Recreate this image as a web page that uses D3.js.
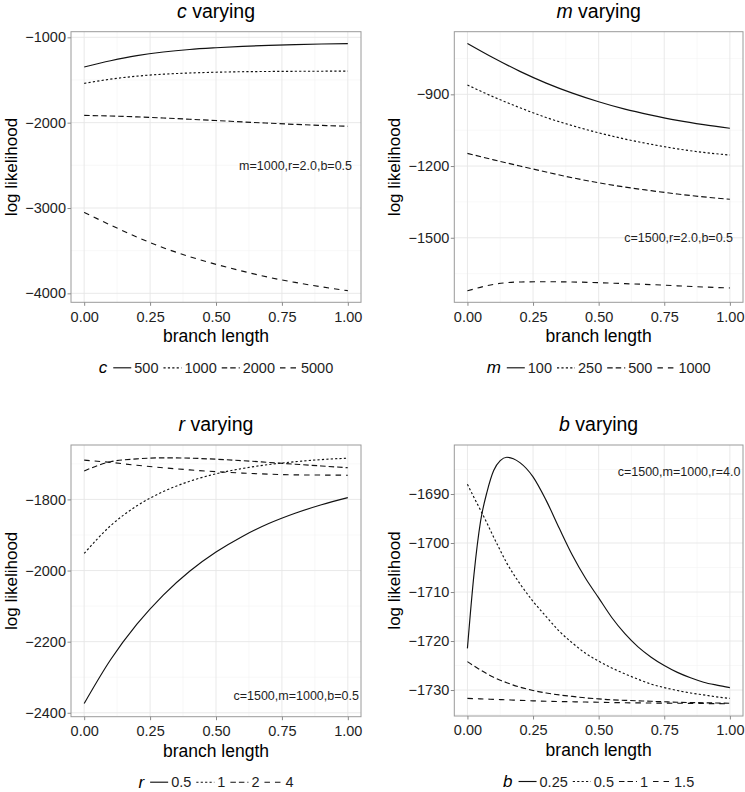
<!DOCTYPE html>
<html><head><meta charset="utf-8">
<script src="https://cdn.jsdelivr.net/npm/d3@7"></script>
<style>
body{margin:0;background:#fff}
svg{display:block}
text{font-family:"Liberation Sans",Arial,Helvetica,sans-serif}
</style>
</head><body>
<svg id="chart" width="745" height="792"></svg>
<script>
// ---------- DATA ----------
const branch = [0, 0.1, 0.2, 0.3, 0.4, 0.5, 0.6, 0.7, 0.8, 0.9, 1.0];
const branchB = [0, 0.025, 0.05, 0.075, 0.1, 0.125, 0.15, 0.175, 0.2, 0.25, 0.3, 0.35, 0.4, 0.45, 0.5, 0.55, 0.6, 0.65, 0.7, 0.75, 0.8, 0.85, 0.9, 0.95, 1.0];
const xTicks = [0, 0.25, 0.5, 0.75, 1];

// c varying (m=1000, r=2.0, b=0.5)
const cLevels = ["500", "1000", "2000", "5000"];
const c500  = [-1348, -1275, -1215, -1172, -1142, -1122, -1106, -1094, -1085, -1078, -1073];
const c1000 = [-1540, -1490, -1455, -1432, -1418, -1409, -1403, -1400, -1398, -1397, -1396];
const c2000 = [-1915, -1922, -1932, -1945, -1960, -1975, -1991, -2006, -2020, -2032, -2042];
const c5000 = [-3051, -3200, -3340, -3465, -3570, -3660, -3740, -3812, -3872, -3924, -3969];
const cTicks = [-4000, -3000, -2000, -1000];

// m varying (c=1500, r=2.0, b=0.5)
const mLevels = ["100", "250", "500", "1000"];
const m100  = [-687, -748, -804, -853, -895, -931, -962, -987, -1009, -1027, -1042];
const m250  = [-861, -911, -956, -997, -1031, -1061, -1087, -1109, -1128, -1143, -1154];
const m500  = [-1147, -1174, -1200, -1225, -1249, -1270, -1288, -1303, -1317, -1329, -1339];
const m1000 = [-1722, -1695, -1685, -1684, -1685, -1688, -1692, -1696, -1701, -1706, -1710];
const mTicks = [-1500, -1200, -900];

// r varying (c=1500, m=1000, b=0.5)
const rLevels = ["0.5", "1", "2", "4"];
const r05 = [-2374, -2251, -2151, -2069, -2002, -1948, -1904, -1868, -1839, -1815, -1795];
const r1  = [-1952, -1874, -1818, -1778, -1749, -1728, -1713, -1702, -1694, -1688, -1684];
const r2  = [-1720, -1694, -1686, -1683, -1684, -1687, -1691, -1696, -1701, -1706, -1711];
const r4  = [-1689.5, -1696, -1704, -1711, -1717, -1722, -1726, -1729, -1731, -1731.5, -1732];
const rTicks = [-2400, -2200, -2000, -1800];

// b varying (c=1500, m=1000, r=4.0)
const bLevels = ["0.25", "0.5", "1", "1.5"];
const b025 = [-1721.5, -1706.4, -1695.6, -1689.5, -1685.2, -1683.2, -1682.5, -1682.8, -1683.6, -1686.5, -1691.3, -1697.0, -1702.5, -1707.2, -1711.2, -1715.2, -1718.5, -1721.2, -1723.3, -1725.0, -1726.4, -1727.5, -1728.4, -1729.0, -1729.5];
const b05  = [-1688.0, -1690.7, -1693.3, -1696.0, -1698.8, -1701.5, -1704.1, -1706.3, -1708.3, -1711.9, -1715.0, -1718.0, -1720.4, -1722.5, -1724.1, -1725.5, -1726.7, -1727.8, -1728.8, -1729.5, -1730.1, -1730.6, -1731.0, -1731.4, -1731.7];
const b1   = [-1724.2, -1725.1, -1725.9, -1726.7, -1727.4, -1728.0, -1728.5, -1729.0, -1729.4, -1730.1, -1730.6, -1731.0, -1731.3, -1731.6, -1731.8, -1732.0, -1732.1, -1732.2, -1732.3, -1732.4, -1732.5, -1732.55, -1732.6, -1732.65, -1732.7];
const b15  = [-1731.7, -1731.75, -1731.8, -1731.85, -1731.9, -1731.95, -1732.0, -1732.05, -1732.1, -1732.2, -1732.3, -1732.35, -1732.4, -1732.45, -1732.5, -1732.55, -1732.6, -1732.62, -1732.65, -1732.68, -1732.7, -1732.72, -1732.75, -1732.78, -1732.8];
const bTicks = [-1730, -1720, -1710, -1700, -1690];

const notes = ["m=1000,r=2.0,b=0.5", "c=1500,r=2.0,b=0.5", "c=1500,m=1000,b=0.5", "c=1500,m=1000,r=4.0"];
const noteX = [1.016, 1.012, 1.042, 1.04];
const noteY = [-2508, -1500, -2353, -1685.4];

// ---------- LAYOUT / STYLE ----------
const dashes = [null, "2.2,2.2", "5.5,3", "5.5,5"];
const panels = [
  {v: "c", levels: cLevels, xs: branch, series: [c500, c1000, c2000, c5000], ticks: cTicks, yd: [-4105, -934], r: [71, 31.7, 361, 302.3]},
  {v: "m", levels: mLevels, xs: branch, series: [m100, m250, m500, m1000], ticks: mTicks, yd: [-1770, -638], r: [454.3, 31.7, 743, 302.3]},
  {v: "r", levels: rLevels, xs: branch, series: [r05, r1, r2, r4], ticks: rTicks, yd: [-2411, -1647], r: [71, 445, 361, 716.7]},
  {v: "b", levels: bLevels, xs: branchB, series: [b025, b05, b1, b15], ticks: bTicks, yd: [-1735.3, -1680], r: [454.3, 445, 743, 716]}
];

const svg = d3.select("#chart");
svg.append("rect").attr("width", 745).attr("height", 792).attr("fill", "#fff");

panels.forEach((p, i) => {
  const [x0, y0, x1, y1] = p.r;
  const x = d3.scaleLinear().domain([-0.05, 1.05]).range([x0, x1]);
  const y = d3.scaleLinear().domain(p.yd).range([y1, y0]);
  const g = svg.append("g");

  // minor grid
  const step = p.ticks[1] - p.ticks[0];
  const ext = [p.ticks[0] - step, ...p.ticks, p.ticks[p.ticks.length - 1] + step];
  const yMinor = [];
  for (let k = 0; k < ext.length - 1; k++) {
    const mv = (ext[k] + ext[k + 1]) / 2;
    if (mv >= p.yd[0] && mv <= p.yd[1]) yMinor.push(mv);
  }
  const xMinor = [0.125, 0.375, 0.625, 0.875];
  g.selectAll(".ymin").data(yMinor).join("line")
    .attr("x1", x0).attr("x2", x1).attr("y1", d => y(d)).attr("y2", d => y(d))
    .attr("stroke", "#f3f3f3").attr("stroke-width", 0.6);
  g.selectAll(".xmin").data(xMinor).join("line")
    .attr("y1", y0).attr("y2", y1).attr("x1", d => x(d)).attr("x2", d => x(d))
    .attr("stroke", "#f3f3f3").attr("stroke-width", 0.6);
  // major grid
  g.selectAll(".ymaj").data(p.ticks).join("line")
    .attr("x1", x0).attr("x2", x1).attr("y1", d => y(d)).attr("y2", d => y(d))
    .attr("stroke", "#e6e6e6").attr("stroke-width", 0.9);
  g.selectAll(".xmaj").data(xTicks).join("line")
    .attr("y1", y0).attr("y2", y1).attr("x1", d => x(d)).attr("x2", d => x(d))
    .attr("stroke", "#e6e6e6").attr("stroke-width", 0.9);

  // lines
  const line = d3.line().x(d => x(d[0])).y(d => y(d[1])).curve(d3.curveMonotoneX);
  p.series.forEach((s, j) => {
    g.append("path")
      .attr("d", line(p.xs.map((xv, k) => [xv, s[k]])))
      .attr("fill", "none").attr("stroke", "#111").attr("stroke-width", 1.15)
      .attr("stroke-dasharray", dashes[j]);
  });

  // border
  g.append("rect").attr("x", x0).attr("y", y0).attr("width", x1 - x0).attr("height", y1 - y0)
    .attr("fill", "none").attr("stroke", "#9a9a9a").attr("stroke-width", 1);

  // axes
  const ya = g.append("g").attr("transform", `translate(${x0},0)`)
    .call(d3.axisLeft(y).tickValues(p.ticks).tickSizeOuter(0).tickSize(3.5).tickPadding(1.5).tickFormat(d3.format("d")));
  const xa = g.append("g").attr("transform", `translate(0,${y1})`)
    .call(d3.axisBottom(x).tickValues(xTicks).tickSizeOuter(0).tickSize(3.5).tickPadding(5.5).tickFormat(d3.format(".2f")));
  [ya, xa].forEach(a => {
    a.select(".domain").remove();
    a.selectAll(".tick line").attr("stroke", "#8a8a8a");
    a.selectAll(".tick text").attr("fill", "#1e1e1e").style("font-size", "14.5px")
      .style("font-family", '"Liberation Sans",Arial,sans-serif');
  });

  // annotation
  g.append("text").attr("x", x(noteX[i])).attr("y", y(noteY[i])).attr("dy", "0.35em")
    .attr("text-anchor", "end").attr("font-size", 12.5).attr("fill", "#1e1e1e").text(notes[i]);

  const cx = (x0 + x1) / 2;
  // title
  const t = g.append("text").attr("x", cx).attr("y", y0 - 14).attr("text-anchor", "middle")
    .attr("font-size", 19.5).attr("fill", "#000");
  t.append("tspan").attr("font-style", "italic").text(p.v);
  t.append("tspan").text(" varying");

  // axis titles
  g.append("text").attr("x", cx).attr("y", y1 + 40).attr("text-anchor", "middle")
    .attr("font-size", 17.5).attr("fill", "#000").text("branch length");
  g.append("text").attr("transform", `translate(${x0 - 54},${(y0 + y1) / 2}) rotate(-90)`)
    .attr("text-anchor", "middle").attr("font-size", 17).attr("fill", "#000").text("log likelihood");

  // legend
  const ly = y1 + 65.5;
  const lg = g.append("g");
  let cur = 0;
  const tt = lg.append("text").attr("x", cur).attr("y", ly).attr("dy", "0.32em")
    .attr("font-size", 17).attr("font-style", "italic").attr("fill", "#000").text(p.v);
  cur += tt.node().getComputedTextLength() + 6;
  p.levels.forEach((lv, j) => {
    lg.append("line").attr("x1", cur).attr("x2", cur + 18).attr("y1", ly).attr("y2", ly)
      .attr("stroke", "#111").attr("stroke-width", 1.15).attr("stroke-dasharray", dashes[j]);
    cur += 21;
    const lt = lg.append("text").attr("x", cur).attr("y", ly).attr("dy", "0.35em")
      .attr("font-size", 14.5).attr("fill", "#1e1e1e").text(lv);
    cur += lt.node().getComputedTextLength() + 5;
  });
  cur -= 5;
  lg.attr("transform", `translate(${cx - cur / 2},0)`);
});
</script>
</body></html>
